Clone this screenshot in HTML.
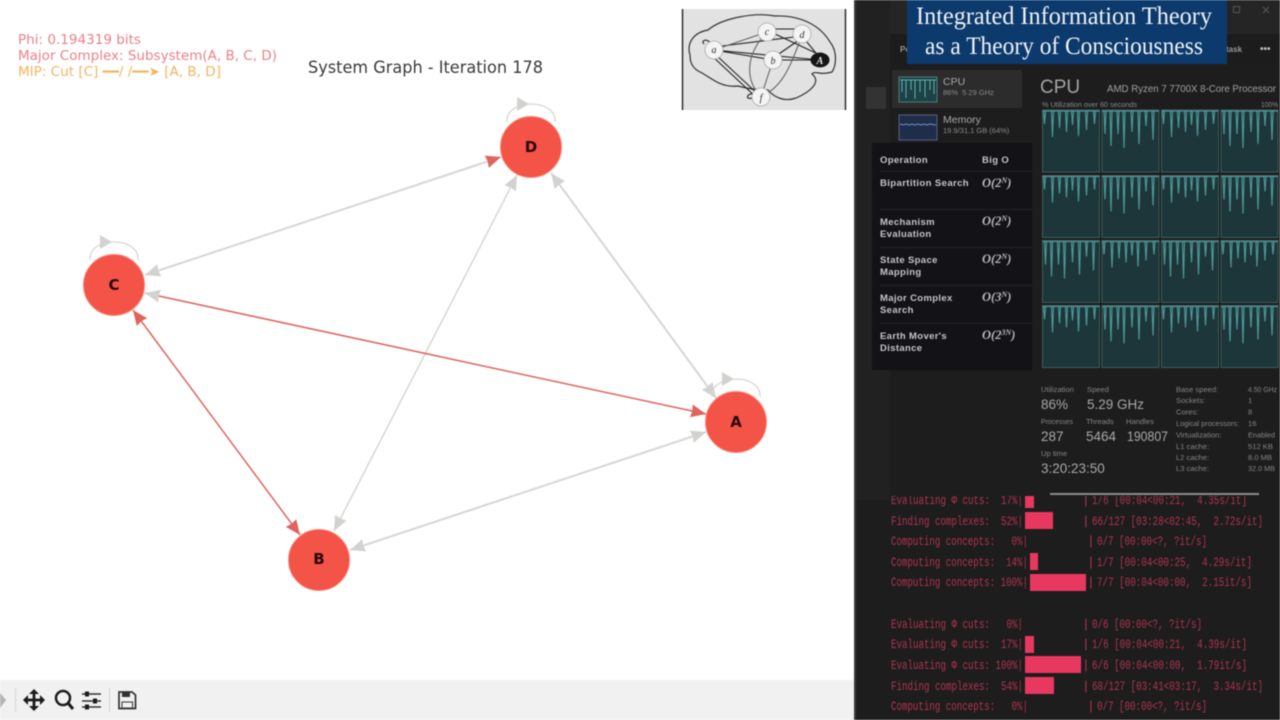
<!DOCTYPE html>
<html><head><meta charset="utf-8"><style>
html,body{margin:0;padding:0;background:#fff;width:1280px;height:720px;overflow:hidden}
svg{display:block;filter:blur(.4px)}
text{white-space:pre}
.dj{font-family:"DejaVu Sans",sans-serif}
.lib{font-family:"Liberation Sans",sans-serif}
.tm text{font-family:"Liberation Mono",monospace;font-size:13px;fill:#b03350}
.tb text{font-family:"Liberation Sans",sans-serif;font-size:9.5px;font-weight:bold;fill:#c6c6c8;letter-spacing:.35px}
.tb text.o{font-family:"Liberation Serif",serif;font-style:italic;font-size:12.5px;font-weight:bold;letter-spacing:0;fill:#b8b8ba}
.st text{font-family:"Liberation Sans",sans-serif;fill:#858585;font-size:7.6px}
.st text.b{font-size:13.5px;fill:#a8a8a8}
.n{font-family:"DejaVu Sans",sans-serif;font-weight:bold;font-size:15px;fill:#2a0808;text-anchor:middle}
.g{stroke:#d6d6d4;stroke-width:2;fill:none}
.r{stroke:#e0645e;stroke-width:1.5;fill:none}
</style></head><body>
<svg width="1280" height="720" viewBox="0 0 1280 720" xmlns="http://www.w3.org/2000/svg">
<defs>
<marker id="ag" markerUnits="userSpaceOnUse" markerWidth="17" markerHeight="15" refX="15" refY="6.500" orient="auto-start-reverse"><path d="M0 0L15 6.500L0 13L1 6.500Z" fill="#d2d2d0"/></marker>
<marker id="ar" markerUnits="userSpaceOnUse" markerWidth="17" markerHeight="15" refX="15" refY="6.500" orient="auto-start-reverse"><path d="M0 0L15 6.500L0 13L1 6.500Z" fill="#e0645e"/></marker>
<g id="loop"><path d="M-24 -25C-25 -36 -14 -43 0 -43C14 -43 25 -36 24 -25" fill="none" stroke="#d6d6d4" stroke-width="1.3"/><path d="M-14 -50L-2 -43L-14 -36Z" fill="#d2d2d0"/></g>
<g id="c1"><rect width="57" height="62" fill="#1c3639" stroke="#3c5d5f"/><path d="M0 1H57M1 1L2 14L3 1M9 1L10 27L11 1M16 1L17 18L18 1M23 1L24 22L25 1M29 1L30 15L31 1M35 1L36 26L37 1M43 1L44 20L45 1M51 1L52 14L53 1" fill="none" stroke="#4f9596" stroke-width="1.2"/></g>
<g id="c2"><rect width="57" height="62" fill="#1c3639" stroke="#3c5d5f"/><path d="M0 1H57M2 1L3 24L4 1M8 1L9 36L10 1M15 1L16 24L17 1M21 1L22 38L23 1M29 1L30 22L31 1M36 1L37 34L38 1M43 1L44 16L45 1M50 1L51 30L52 1" fill="none" stroke="#4f9596" stroke-width="1.2"/></g>
</defs>

<!-- plot -->
<text x="308" y="73" class="dj" font-size="16.5" fill="#3a3a3a" textLength="235" lengthAdjust="spacingAndGlyphs">System Graph - Iteration 178</text>
<text x="18" y="44" class="dj" font-size="13" fill="#ec8087" textLength="123" lengthAdjust="spacingAndGlyphs">Phi: 0.194319 bits</text>
<text x="18" y="60" class="dj" font-size="13" fill="#ec8087" textLength="259" lengthAdjust="spacingAndGlyphs">Major Complex: Subsystem(A, B, C, D)</text>
<text x="18" y="76" class="dj" font-size="13" fill="#f2b560" textLength="203" lengthAdjust="spacingAndGlyphs">MIP: Cut [C] ━━/ /━━➤ [A, B, D]</text>

<line class="g" x1="145" y1="275" x2="501" y2="157" marker-start="url(#ag)" marker-end="url(#ar)"/>
<line class="g" x1="551" y1="173" x2="716" y2="398" marker-start="url(#ag)" marker-end="url(#ag)"/>
<line class="g" style="stroke-width:1.5" x1="517" y1="175" x2="334" y2="531" marker-start="url(#ag)" marker-end="url(#ag)"/>
<line class="g" x1="350" y1="550" x2="706" y2="432" marker-start="url(#ag)" marker-end="url(#ag)"/>
<line class="r" x1="145" y1="293" x2="706" y2="414" marker-start="url(#ag)" marker-end="url(#ar)"/>
<line class="r" x1="133" y1="310" x2="300" y2="535" marker-start="url(#ar)" marker-end="url(#ar)"/>

<use href="#loop" x="531" y="147"/><use href="#loop" x="114" y="285"/><use href="#loop" x="736" y="422"/>
<g fill="#f45347" stroke="#fb8a7c" stroke-width="1">
<circle cx="531" cy="147" r="30.5"/><circle cx="114" cy="285" r="30.5"/><circle cx="736" cy="422" r="30.5"/><circle cx="319" cy="560" r="30.5"/>
</g>
<text class="n" x="531" y="152">D</text><text class="n" x="114" y="290">C</text><text class="n" x="736" y="427">A</text><text class="n" x="319" y="564">B</text>

<!-- toolbar -->
<rect x="0" y="680" width="855" height="40" fill="#f1f1f1"/>
<path d="M0 693L6 700L0 708Z" fill="#b4b4b4"/>
<path d="M15.500 688V712M109.500 688V712" stroke="#d4d4d4"/>
<path d="M27 700H41M34 693V707" stroke="#1c1c1c" stroke-width="2.8"/>
<path d="M28 695V705L23 700ZM40 695V705L45 700ZM29 694H39L34 689ZM29 706H39L34 711Z" fill="#1c1c1c"/>
<circle cx="63" cy="698" r="7" fill="none" stroke="#1c1c1c" stroke-width="2.5"/>
<path d="M68 703L73 709" stroke="#1c1c1c" stroke-width="3"/>
<path d="M82 694H101M82 701H101M82 707H101" stroke="#333" stroke-width="1.5"/>
<path d="M85 691.500H89V696.500H85ZM93 698.500H97V703.500H93ZM85 704.500H89V709.500H85Z" fill="#1c1c1c"/>
<path d="M119 692H132L135.500 695V708.500H119Z" fill="none" stroke="#333" stroke-width="1.7"/>
<rect x="122" y="692" width="8" height="5" fill="#333"/>
<rect x="122" y="702" width="10.500" height="6" fill="none" stroke="#333"/>

<!-- brain image -->
<rect x="682" y="9" width="164" height="101" fill="#e2e2e2"/>
<path d="M682.500 9V110M845.500 9V110" stroke="#222" stroke-width="1.4"/>
<path d="M690 55C686 42 695 32 708 30C722 18 755 12 775 16C800 15 820 25 830 42C838 52 836 66 832 72C820 76 815 70 812 74C822 82 810 92 796 98C785 102 775 98 768 90C755 90 745 88 738 86C720 88 712 78 700 72C692 68 690 62 690 55Z" fill="none" stroke="#333" stroke-width="1.2"/>
<g stroke="#222" stroke-width="1.1" fill="none">
<path d="M714 50L773 60M714 50L820 60M714 47L802 36M716 55L761 97M711 55L758 99M767 29L802 29M773 60L820 60M802 36L820 58M802 38L773 58M775 34L820 55"/>
<path d="M767 32C745 55 745 80 761 97M802 36C790 65 785 85 761 97M761 97L773 60M714 50L767 32" stroke="#666"/>
<path d="M704 44C700 40 708 38 711 44M755 97C744 102 746 92 755 94"/>
</g>
<g fill="#f4f4f4" stroke="#aaa" stroke-width=".8"><circle cx="714" cy="50" r="9"/><circle cx="767" cy="32" r="9"/><circle cx="802" cy="34" r="9"/><circle cx="773" cy="60" r="9"/><circle cx="761" cy="97" r="9"/></g>
<ellipse cx="820" cy="60" rx="9.500" ry="7.500" fill="#151515"/>
<g font-family="Liberation Serif,serif" font-style="italic" font-size="10" fill="#333" text-anchor="middle"><text x="714" y="53">a</text><text x="767" y="35">c</text><text x="802" y="38">d</text><text x="773" y="64">b</text><text x="761" y="101">f</text><text x="820" y="64" fill="#eee" font-weight="bold">A</text></g>

<!-- dark panel -->
<rect x="855" y="0" width="425" height="720" fill="#1d1d1d"/>
<rect x="854" y="0" width="2" height="720" fill="#3a3a3a"/>
<rect x="856" y="0" width="34" height="500" fill="#212121"/>
<rect x="890" y="34" width="390" height="30" fill="#1c1c1c"/>
<rect x="890" y="0" width="390" height="34" fill="#252525"/>
<rect x="866" y="87" width="20" height="22" fill="#333"/>
<rect x="892" y="70" width="130" height="38" fill="#2c2c2c"/>
<rect x="899" y="77" width="38" height="25" fill="#1c4245" stroke="#4e7c7e"/>
<path d="M900 80H936M902 80V92M906 80V98M911 80V90M915 80V99M920 80V92M925 80V97M930 80V90M934 80V94" stroke="#62b0ae" fill="none"/>
<rect x="899" y="115" width="38" height="25" fill="#1f2c4a" stroke="#55627e"/>
<path d="M900 124L903 125L906 124L909 125L912 124L915 125L918 124L921 125L924 124L927 125L930 124L936 125" stroke="#7a90c8" fill="none"/>
<g class="lib" fill="#a8a8a8">
<text x="943" y="85" font-size="10.500">CPU</text>
<text x="943" y="95" font-size="7.500" fill="#8a8a8a">86%  5.29 GHz</text>
<text x="943" y="123" font-size="10.500">Memory</text>
<text x="943" y="133" font-size="7.500" fill="#8a8a8a">19.9/31.1 GB (64%)</text>
<text x="900" y="52" font-size="8" fill="#999" font-weight="bold">Pe</text>
<text x="1226" y="52" font-size="8" fill="#999" font-weight="bold">task</text>
<text x="1260" y="52" font-size="10" fill="#bbb" font-weight="bold">•••</text>
</g>
<rect x="1233.500" y="6.500" width="6" height="6" fill="none" stroke="#555"/>
<path d="M1263 7L1269 13M1269 7L1263 13" stroke="#555"/>

<!-- banner -->
<rect x="907" y="0" width="320" height="64" fill="#0c3a6c"/>
<text x="916" y="24" font-family="Liberation Serif,serif" font-size="25" fill="#eef2f6" textLength="296" lengthAdjust="spacingAndGlyphs">Integrated Information Theory</text>
<text x="925" y="54" font-family="Liberation Serif,serif" font-size="25" fill="#eef2f6" textLength="278" lengthAdjust="spacingAndGlyphs">as a Theory of Consciousness</text>

<!-- CPU -->
<text x="1040" y="93" class="lib" font-size="19" fill="#a4a4a4">CPU</text>
<text x="1107" y="92" class="lib" font-size="10.500" fill="#a0a0a0" textLength="169" lengthAdjust="spacingAndGlyphs">AMD Ryzen 7 7700X 8-Core Processor</text>
<text x="1042" y="107" class="lib" font-size="7.500" fill="#8a8a8a" textLength="95" lengthAdjust="spacingAndGlyphs">% Utilization over 60 seconds</text>
<text x="1261" y="107" class="lib" font-size="7.500" fill="#8a8a8a" textLength="17" lengthAdjust="spacingAndGlyphs">100%</text>
<use href="#c1" x="1042.500" y="110"/><use href="#c2" x="1102" y="110"/><use href="#c1" x="1161.500" y="110"/><use href="#c2" x="1221" y="110"/>
<use href="#c1" x="1042.500" y="175.500"/><use href="#c2" x="1102" y="175.500"/><use href="#c1" x="1161.500" y="175.500"/><use href="#c2" x="1221" y="175.500"/>
<use href="#c2" x="1042.500" y="240.500"/><use href="#c1" x="1102" y="240.500"/><use href="#c2" x="1161.500" y="240.500"/><use href="#c1" x="1221" y="240.500"/>
<use href="#c1" x="1042.500" y="305.500"/><use href="#c2" x="1102" y="305.500"/><use href="#c1" x="1161.500" y="305.500"/><use href="#c2" x="1221" y="305.500"/>

<g class="st">
<text x="1041" y="392">Utilization</text><text x="1087" y="392">Speed</text>
<text class="b" x="1041" y="409">86%</text><text class="b" x="1087" y="409">5.29 GHz</text>
<text x="1041" y="424" textLength="32" lengthAdjust="spacingAndGlyphs">Processes</text><text x="1086" y="424">Threads</text><text x="1126" y="424">Handles</text>
<text class="b" x="1041" y="441">287</text><text class="b" x="1086" y="441">5464</text><text class="b" x="1127" y="441" textLength="41" lengthAdjust="spacingAndGlyphs">190807</text>
<text x="1041" y="456">Up time</text><text class="b" x="1041" y="473">3:20:23:50</text>
<text x="1176" y="392">Base speed:</text><text x="1248" y="392" textLength="29" lengthAdjust="spacingAndGlyphs">4.50 GHz</text>
<text x="1176" y="403">Sockets:</text><text x="1248" y="403">1</text>
<text x="1176" y="414.500">Cores:</text><text x="1248" y="414.500">8</text>
<text x="1176" y="426" textLength="63" lengthAdjust="spacingAndGlyphs">Logical processors:</text><text x="1248" y="426">16</text>
<text x="1176" y="437.500">Virtualization:</text><text x="1248" y="437.500" textLength="27" lengthAdjust="spacingAndGlyphs">Enabled</text>
<text x="1176" y="449">L1 cache:</text><text x="1248" y="449">512 KB</text>
<text x="1176" y="460">L2 cache:</text><text x="1248" y="460">8.0 MB</text>
<text x="1176" y="471">L3 cache:</text><text x="1248" y="471" textLength="27" lengthAdjust="spacingAndGlyphs">32.0 MB</text>
</g>

<!-- table -->
<rect x="872" y="143" width="160" height="227" fill="#121217"/>
<path d="M880 171.500H1032M880 209.500H1032M880 247.500H1032M880 285.500H1032M880 323.500H1032" stroke="#24242a"/>
<g class="tb">
<text x="880" y="163">Operation</text><text x="982" y="163">Big O</text>
<text x="880" y="186" textLength="89" lengthAdjust="spacingAndGlyphs">Bipartition Search</text><text class="o" x="982" y="187">O(2<tspan dy="-4" font-size="8">N</tspan><tspan dy="4">)</tspan></text>
<text x="880" y="225">Mechanism</text><text x="880" y="237">Evaluation</text><text class="o" x="982" y="225">O(2<tspan dy="-4" font-size="8">N</tspan><tspan dy="4">)</tspan></text>
<text x="880" y="263">State Space</text><text x="880" y="275">Mapping</text><text class="o" x="982" y="263">O(2<tspan dy="-4" font-size="8">N</tspan><tspan dy="4">)</tspan></text>
<text x="880" y="301">Major Complex</text><text x="880" y="313">Search</text><text class="o" x="982" y="301">O(3<tspan dy="-4" font-size="8">N</tspan><tspan dy="4">)</tspan></text>
<text x="880" y="339">Earth Mover's</text><text x="880" y="351">Distance</text><text class="o" x="982" y="339">O(2<tspan dy="-4" font-size="8">3N</tspan><tspan dy="4">)</tspan></text>
</g>

<!-- terminal -->
<rect x="1050" y="493" width="209" height="2" fill="#8a8a8a"/>
<clipPath id="tc"><rect x="860" y="496" width="420" height="224"/></clipPath>
<g clip-path="url(#tc)">
<g fill="#e8385f">
<rect x="1025" y="492" width="9" height="16"/>
<rect x="1025" y="512" width="28" height="17"/>
<rect x="1030" y="553" width="8" height="17"/>
<rect x="1030" y="574" width="56" height="17"/>
<rect x="1025" y="636" width="9" height="17"/>
<rect x="1025" y="656" width="56" height="17"/>
<rect x="1025" y="677" width="29" height="17"/>
</g>
<g class="tm">
<text x="891" y="504" textLength="132" lengthAdjust="spacingAndGlyphs">Evaluating Φ cuts:  17%|</text><text x="1082" y="504">|</text><text x="1092" y="504" textLength="155" lengthAdjust="spacingAndGlyphs">1/6 [00:04&lt;00:21,  4.35s/it]</text>
<text x="891" y="525" textLength="132" lengthAdjust="spacingAndGlyphs">Finding complexes:  52%|</text><text x="1082" y="525">|</text><text x="1092" y="525" textLength="171" lengthAdjust="spacingAndGlyphs">66/127 [03:28&lt;02:45,  2.72s/it]</text>
<text x="891" y="545" textLength="137" lengthAdjust="spacingAndGlyphs">Computing concepts:   0%|</text><text x="1087" y="545">|</text><text x="1097" y="545" textLength="110" lengthAdjust="spacingAndGlyphs">0/7 [00:00&lt;?, ?it/s]</text>
<text x="891" y="566" textLength="137" lengthAdjust="spacingAndGlyphs">Computing concepts:  14%|</text><text x="1087" y="566">|</text><text x="1097" y="566" textLength="155" lengthAdjust="spacingAndGlyphs">1/7 [00:04&lt;00:25,  4.29s/it]</text>
<text x="891" y="586" textLength="137" lengthAdjust="spacingAndGlyphs">Computing concepts: 100%|</text><text x="1087" y="586">|</text><text x="1097" y="586" textLength="155" lengthAdjust="spacingAndGlyphs">7/7 [00:04&lt;00:00,  2.15it/s]</text>
<text x="891" y="628" textLength="132" lengthAdjust="spacingAndGlyphs">Evaluating Φ cuts:   0%|</text><text x="1082" y="628">|</text><text x="1092" y="628" textLength="110" lengthAdjust="spacingAndGlyphs">0/6 [00:00&lt;?, ?it/s]</text>
<text x="891" y="648" textLength="132" lengthAdjust="spacingAndGlyphs">Evaluating Φ cuts:  17%|</text><text x="1082" y="648">|</text><text x="1092" y="648" textLength="155" lengthAdjust="spacingAndGlyphs">1/6 [00:04&lt;00:21,  4.39s/it]</text>
<text x="891" y="669" textLength="132" lengthAdjust="spacingAndGlyphs">Evaluating Φ cuts: 100%|</text><text x="1082" y="669">|</text><text x="1092" y="669" textLength="155" lengthAdjust="spacingAndGlyphs">6/6 [00:04&lt;00:00,  1.79it/s]</text>
<text x="891" y="690" textLength="132" lengthAdjust="spacingAndGlyphs">Finding complexes:  54%|</text><text x="1082" y="690">|</text><text x="1092" y="690" textLength="171" lengthAdjust="spacingAndGlyphs">68/127 [03:41&lt;03:17,  3.34s/it]</text>
<text x="891" y="710" textLength="137" lengthAdjust="spacingAndGlyphs">Computing concepts:   0%|</text><text x="1087" y="710">|</text><text x="1097" y="710" textLength="110" lengthAdjust="spacingAndGlyphs">0/7 [00:00&lt;?, ?it/s]</text>
</g>
</g>
</svg>
</body></html>
